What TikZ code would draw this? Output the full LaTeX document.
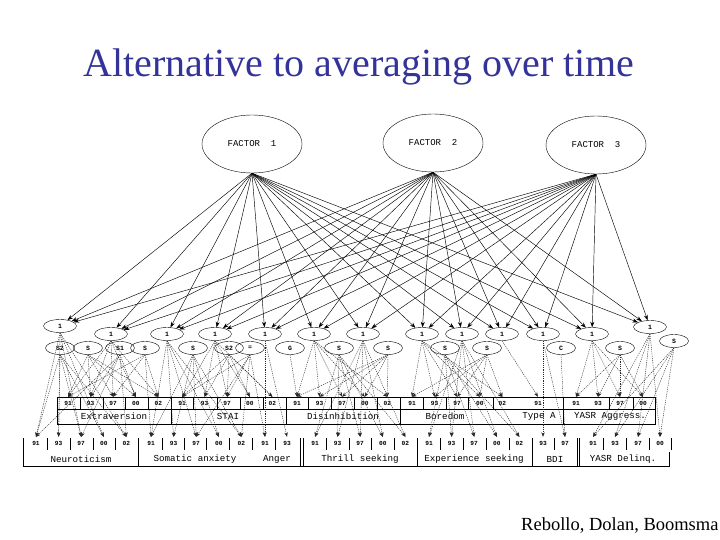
\documentclass[tikz,border=0pt]{standalone}
\usepackage{fontspec}
\setmainfont{Liberation Serif}
\setmonofont{Liberation Mono}
\usetikzlibrary{positioning,arrows.meta,shapes.geometric}
\definecolor{TitleBlue}{RGB}{51,51,153}
\definecolor{DotGrey}{RGB}{40,40,40}

\begin{document}
\begin{tikzpicture}[x=1pt, y=-1pt, every node/.style={font=\ttfamily, align=center}]
\tikzset{
  factor/.style={draw, ellipse, minimum width=100pt, minimum height=58pt, inner sep=0pt, font=\fontsize{9}{10}\selectfont\ttfamily},
  trait/.style={draw, ellipse, minimum width=33pt, minimum height=13pt, inner sep=0pt, font=\fontsize{6.5}{7}\selectfont\ttfamily\bfseries},
  spec/.style={trait, minimum width=29pt},
  wave/.style={minimum width=20pt, minimum height=12pt, inner sep=0pt, font=\fontsize{6.2}{7}\selectfont\ttfamily\bfseries},
  scalelab/.style={inner sep=0pt, font=\fontsize{9.2}{10}\selectfont\ttfamily},
  flow/.style={-{Stealth[length=5.5pt, width=4pt]}, line width=0.45pt},
  dotflow/.style={-{Stealth[length=4.5pt, width=3.4pt]}, DotGrey, line width=0.4pt, dash pattern=on 1.2pt off 1pt}
}
  \useasboundingbox (0,0) rectangle (720,540);
  \node[font=\fontsize{40}{40}\selectfont, text=TitleBlue, anchor=base, inner sep=0pt] (title) at (359,77)
    {Alternative to averaging over time};
  \node[font=\fontsize{18.5}{19}\selectfont, anchor=base west, inner sep=0pt] (credit) at (521,530)
    {Rebollo, Dolan, Boomsma};

  \node[factor] (f1) at (252,144) {FACTOR\ \ 1};
  \node[factor] (f2) at (433,143) {FACTOR\ \ 2};
  \node[factor] (f3) at (596,145) {FACTOR\ \ 3};

  \foreach \n/\x/\y in {1/60/326, 2/111/334, 3/167/334, 4/215/334, 5/265/334, 6/314/334, 7/363/334,
                        8/422/334, 9/462/334, 10/502/334, 11/543/334, 12/592/334, 13/650/327}
    \node[trait] (l\n) at (\x,\y) {1};
  \foreach \n/\x/\y/\t in {1/60/348/S2, 2/88/348/S, 3/120/348/S1, 4/145/348/S, 5/193/348/S, 6/229/348/S2,
                           7/250/348/=, 8/290/348/G, 9/339/348/S, 10/388/348/S, 11/445/348/S, 12/487/348/S,
                           13/561/348/C, 14/620/348/S, 15/674/341/S}
    \node[spec] (s\n) at (\x,\y) {\t};

  % measurement grid
  \draw (57,397) rectangle (655,424);
  \draw (57,409) -- (655,409);
  \foreach \x in {80,103,125,148,171,193,217,240,263,286,308,331,354,377,400,423,446,468,493,563,609,633}
    \draw (\x,397) -- (\x,409);
  \foreach \x in {171,286,400,563}
    \draw (\x,409) -- (\x,424);
  \draw (23,438) -- (23,466) -- (669,466) -- (669,452);
  \foreach \x in {138,300,303,417,532,577,579}
    \draw (\x,438) -- (\x,466);
  \foreach \x in {47,70,93,115,162,184,206,229,252,275,326,349,371,394,440,463,486,509,554,603,626,649,671}
    \draw (\x,438) -- (\x,450);

  \foreach \s/\x/\y in {ex/68/403, st/182/403, di/297/403, bo/412/403, ne/36/443, sa/151/443, th/315/443, es/429/443}
    \foreach \t [count=\k] in {91,93,97,00,02}
      \node[wave] (\s\k) at ({\x+22.6*(\k-1)},\y) {\t};
  \node[wave] (ta1) at (538,403) {91};
  \foreach \t/\x [count=\k] in {91/576, 93/598, 97/620, 00/643}
    \node[wave] (ya\k) at (\x,403) {\t};
  \foreach \t/\x [count=\k] in {91/265, 93/287}
    \node[wave] (an\k) at (\x,443) {\t};
  \foreach \t/\x [count=\k] in {93/543, 97/565}
    \node[wave] (bd\k) at (\x,443) {\t};
  \foreach \t/\x [count=\k] in {91/593, 93/615, 97/638, 00/660}
    \node[wave] (yd\k) at (\x,443) {\t};

  \node[scalelab] (extra) at (114,416.5) {Extraversion};
  \node[scalelab] (stai) at (228,416.5) {STAI};
  \node[scalelab] (disin) at (343,416.5) {Disinhibition};
  \node[scalelab] (bored) at (445,416.5) {Boredom};
  \node[scalelab] (typea) at (539,416.5) {Type A};
  \node[scalelab] (aggr) at (610,416.5) {YASR Aggress.};
  \node[scalelab] (neuro) at (81,459) {Neuroticism};
  \node[scalelab] (soma) at (195,459) {Somatic anxiety};
  \node[scalelab] (anger) at (277,459) {Anger};
  \node[scalelab] (thrill) at (360,459) {Thrill seeking};
  \node[scalelab] (exper) at (474,459) {Experience seeking};
  \node[scalelab] (bdi) at (555,459) {BDI};
  \node[scalelab] (delin) at (623,459) {YASR Delinq.};

  \foreach \f in {f1,f2,f3}
    \foreach \n in {1,...,13}
      \draw[flow] (\f.south) -- (l\n);

  \foreach \a/\targets in {l1/{ne1,ne2,ne3,ne4,ne5}, l2/{ex1,ex2,ex3,ex4,ex5}, l3/{sa1,sa2,sa3,sa4,sa5},
      l4/{st1,st2,st3,st4,st5}, l5/{an1,an2}, l6/{di1,di2,di3,di4,di5}, l7/{th1,th2,th3,th4,th5},
      l8/{bo1,bo2,bo3,bo4,bo5}, l9/{es1,es2,es3,es4,es5}, l10/{ta1}, l11/{bd1,bd2},
      l12/{ya1,ya2,ya3,ya4}, l13/{yd1,yd2,yd3,yd4},
      s1/{ne1,ne2,ne3,ne4,ne5}, s2/{ex1,ex2,ex3,ex4,ex5}, s3/{ne1,ne3,ne5,ex2,ex4}, s4/{ex1,ex3,ex5,sa1},
      s5/{sa1,sa2,sa3,sa4,sa5}, s6/{st1,st2,st3,st4,st5}, s7/{st1,st3,sa3,sa5,an1}, s8/{di1},
      s9/{th1,th2,th3,th4,th5}, s10/{di1,di2,di3,di4,di5}, s11/{es1,es2,es3,es4,es5},
      s12/{bo1,bo2,bo3,bo4,bo5}, s13/{bd2}, s14/{ya1,ya2,ya3,ya4}, s15/{yd1,yd2,yd3,yd4}}
    \foreach \b in \targets
      \draw[dotflow] (\a.south) -- (\b.north);
\end{tikzpicture}
\end{document}
